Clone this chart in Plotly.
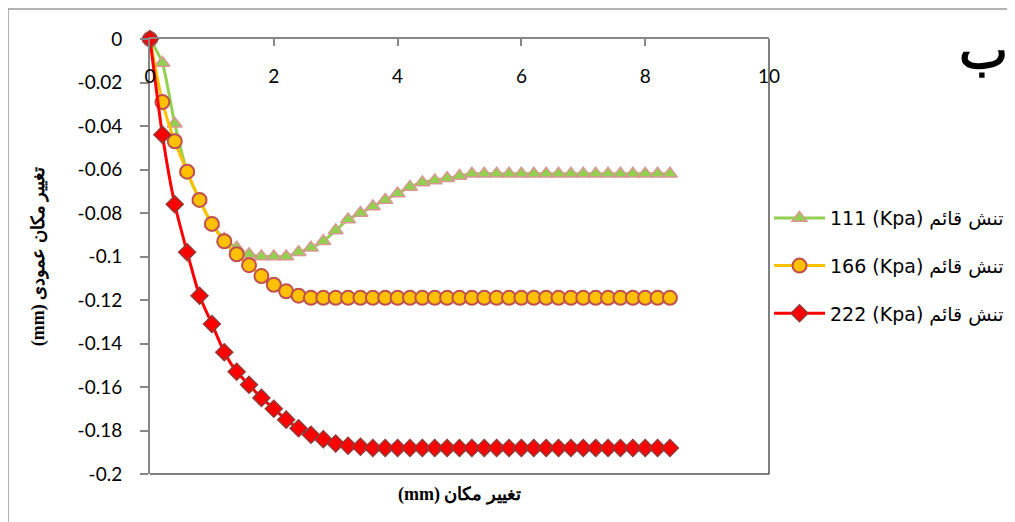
import plotly.graph_objects as go

x_mm = [0, 0.2, 0.4, 0.6, 0.8, 1.0, 1.2, 1.4, 1.6, 1.8, 2.0, 2.2, 2.4, 2.6, 2.8,
        3.0, 3.2, 3.4, 3.6, 3.8, 4.0, 4.2, 4.4, 4.6, 4.8, 5.0, 5.2, 5.4, 5.6, 5.8,
        6.0, 6.2, 6.4, 6.6, 6.8, 7.0, 7.2, 7.4, 7.6, 7.8, 8.0, 8.2, 8.4]

s111 = [0, -0.011, -0.039, -0.061, -0.074, -0.085, -0.092, -0.096, -0.099, -0.100,
        -0.100, -0.100, -0.098, -0.096, -0.093, -0.088, -0.083, -0.080, -0.077, -0.074,
        -0.071, -0.068, -0.066, -0.065, -0.064, -0.063, -0.062, -0.062, -0.062, -0.062,
        -0.062, -0.062, -0.062, -0.062, -0.062, -0.062, -0.062, -0.062, -0.062, -0.062,
        -0.062, -0.062, -0.062]

s166 = [0, -0.029, -0.047, -0.061, -0.074, -0.085, -0.093, -0.099, -0.104, -0.109,
        -0.113, -0.116, -0.118, -0.119, -0.119, -0.119, -0.119, -0.119, -0.119, -0.119,
        -0.119, -0.119, -0.119, -0.119, -0.119, -0.119, -0.119, -0.119, -0.119, -0.119,
        -0.119, -0.119, -0.119, -0.119, -0.119, -0.119, -0.119, -0.119, -0.119, -0.119,
        -0.119, -0.119, -0.119]

s222 = [0, -0.044, -0.076, -0.098, -0.118, -0.131, -0.144, -0.153, -0.159, -0.165,
        -0.170, -0.175, -0.179, -0.182, -0.184, -0.186, -0.187, -0.1875, -0.188, -0.188,
        -0.188, -0.188, -0.188, -0.188, -0.188, -0.188, -0.188, -0.188, -0.188, -0.188,
        -0.188, -0.188, -0.188, -0.188, -0.188, -0.188, -0.188, -0.188, -0.188, -0.188,
        -0.188, -0.188, -0.188]

names = ["111 (Kpa) تنش قائم", "166 (Kpa) تنش قائم", "222 (Kpa) تنش قائم"]

y_ticks = [0, -0.02, -0.04, -0.06, -0.08, -0.1, -0.12, -0.14, -0.16, -0.18, -0.2]
y_labels = ["0", "-0.02", "-0.04", "-0.06", "-0.08", "-0.1", "-0.12", "-0.14", "-0.16", "-0.18", "-0.2"]
x_ticks = [0, 2, 4, 6, 8, 10]
x_labels = ["0", "2", "4", "6", "8", "10"]

fig = go.Figure()

styles = [
    dict(line_color="#92D050", symbol="triangle-up", mfill="#92D050", mline="#D99694", msize=13, mlw=1.5),
    dict(line_color="#FFC000", symbol="circle", mfill="#FFC000", mline="#C0504D", msize=14, mlw=2),
    dict(line_color="#FF0000", symbol="diamond", mfill="#FF0000", mline="#953735", msize=13, mlw=1.5),
]

for i, (ys, nm, st) in enumerate(zip([s111, s166, s222], names, styles)):
    fig.add_trace(go.Scatter(
        x=x_mm, y=ys, name=nm, mode="lines+markers",
        line=dict(color=st["line_color"], width=3, shape="spline", smoothing=0.6),
        marker=dict(symbol=st["symbol"], color=st["mfill"], size=st["msize"],
                    line=dict(color=st["mline"], width=st["mlw"])),
        cliponaxis=False, legendgroup=f"g{i}",
    ))

# invisible carrier trace for the tick-label axis
fig.add_trace(go.Scatter(x=[x_ticks[0], x_ticks[-1]], y=[y_ticks[0], y_ticks[0]],
                         xaxis="x2", mode="markers", marker=dict(opacity=0),
                         showlegend=False, hoverinfo="skip"))

axis_gray = "#868686"
tick_font = dict(family="Lato, 'Noto Sans', sans-serif", size=19, color="#000000")

fig.update_layout(
    width=1008, height=515,
    margin=dict(l=142, r=247, t=31, b=49, autoexpand=False),
    paper_bgcolor="white", plot_bgcolor="white",
    showlegend=True,
    legend=dict(x=1.0, xanchor="left", y=0.478, yanchor="middle",
                font=dict(family="'DejaVu Sans', sans-serif", size=19, color="#000000"),
                itemwidth=51,
                traceorder="grouped", tracegroupgap=20, bgcolor="rgba(0,0,0,0)"),
    xaxis=dict(range=[0, 10], side="top", tickvals=x_ticks, showticklabels=False,
               showline=True, linecolor=axis_gray, linewidth=2,
               ticks="inside", ticklen=7, tickwidth=1.5, tickcolor=axis_gray,
               showgrid=False, zeroline=False),
    xaxis2=dict(range=[0, 10], overlaying="x", anchor="free", position=0.945, side="bottom",
                tickvals=x_ticks, ticktext=x_labels, showline=False, ticks="",
                showgrid=False, zeroline=False, tickfont=tick_font),
    yaxis=dict(range=[-0.2, 0], tickvals=y_ticks, ticktext=y_labels,
               showline=True, linecolor=axis_gray, linewidth=2,
               ticks="outside", ticklen=8, tickwidth=1.5, tickcolor=axis_gray,
               ticklabelstandoff=14,
               showgrid=False, zeroline=False, tickfont=tick_font),
)

# right and bottom plot-area borders
fig.add_shape(type="line", xref="x domain", yref="y domain", x0=1, x1=1, y0=0, y1=1,
              line=dict(color="#000000", width=1))
fig.add_shape(type="line", xref="x domain", yref="y domain", x0=0, x1=1, y0=0, y1=0,
              line=dict(color="#000000", width=1))
# outer chart border
fig.add_shape(type="rect", xref="paper", yref="paper", x0=-0.2294, x1=1.42, y0=-0.14, y1=1.069,
              line=dict(color="#9A9A9A", width=1.5), layer="below")

fig.add_annotation(text="<b>(mm) تغییر مکان</b>", xref="paper", yref="paper",
                   x=0.5, y=-0.046, yanchor="middle", showarrow=False,
                   font=dict(family="'Liberation Serif', 'DejaVu Serif', serif", size=18, color="#000000"))
fig.add_annotation(text="<b>(mm) تغییر مکان عمودی</b>", xref="paper", yref="paper",
                   x=-0.2, y=0.5, textangle=-90, showarrow=False,
                   font=dict(family="'Liberation Serif', 'DejaVu Serif', serif", size=18, color="#000000"))
fig.add_annotation(text="<b>ب</b>", xref="paper", yref="paper",
                   x=1.39, y=1.05, showarrow=False,
                   font=dict(family="'DejaVu Serif', serif", size=52, color="#000000"))

fig.write_html("out.html")
